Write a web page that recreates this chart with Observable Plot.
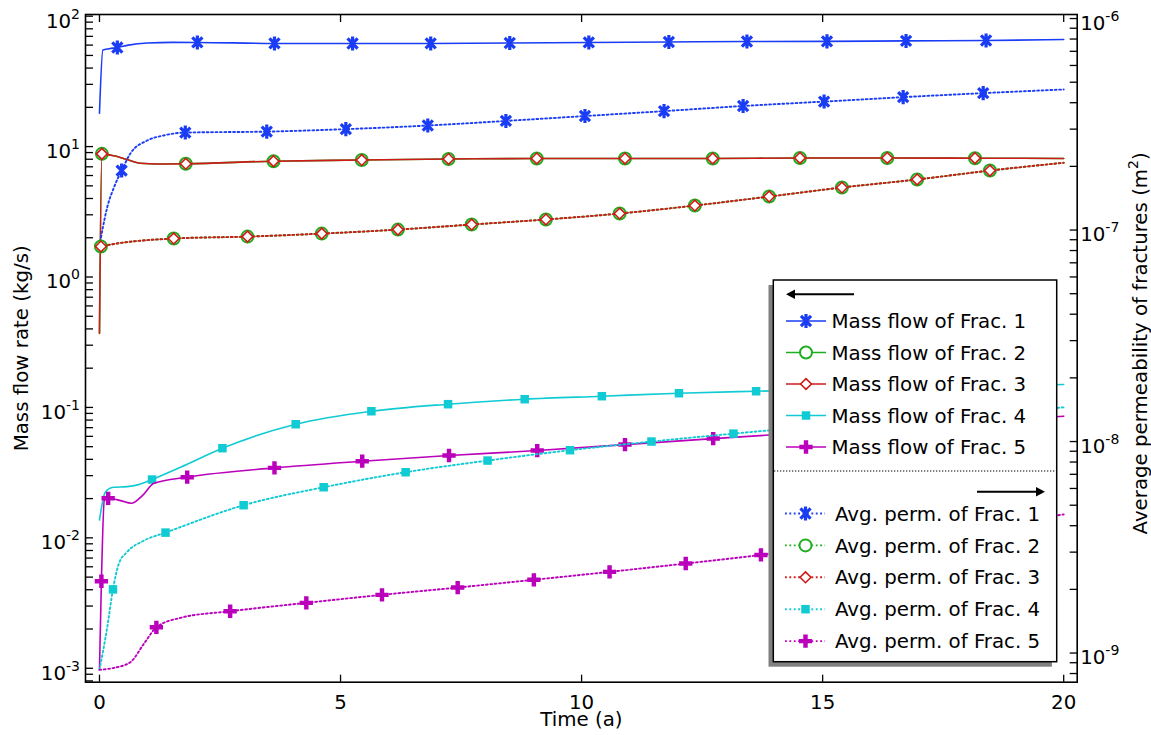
<!DOCTYPE html>
<html>
<head>
<meta charset="utf-8">
<script src="https://cdn.jsdelivr.net/npm/d3@7"></script>
<script src="https://cdn.jsdelivr.net/npm/@observablehq/plot@0.6"></script>
<style>
  body { margin: 0; background: #fff; }
  svg { display: block; }
</style>
</head>
<body>
<div id="chart"></div>
<script>
// ---------- axes ----------
const xTicks = [0, 5, 10, 15, 20];
const xDomain = [-0.29, 20.28];
const leftDomain = [7.82e-4, 103];          // mass flow rate (kg/s)
const leftMajor = [1e-3, 1e-2, 1e-1, 1e0, 1e1, 1e2];
const rightDomain = [7.28e-10, 1.045e-6];   // average permeability (m^2)
const rightMajor = [1e-9, 1e-8, 1e-7, 1e-6];

const xTitle = "Time (a)";
const leftTitle = "Mass flow rate (kg/s)";
const rightTitle = "Average permeability of fractures (m^2)";

const massLabels = ["Mass flow of Frac. 1", "Mass flow of Frac. 2", "Mass flow of Frac. 3", "Mass flow of Frac. 4", "Mass flow of Frac. 5"];
const permLabels = ["Avg. perm. of Frac. 1", "Avg. perm. of Frac. 2", "Avg. perm. of Frac. 3", "Avg. perm. of Frac. 4", "Avg. perm. of Frac. 5"];
const fracColors = ["#1a3cf5", "#1fae1f", "#d01a1a", "#10cbd3", "#bb00bb"];
const fracSymbols = ["star", "circle", "diamond", "square", "plus"];

// ---------- data: [time (a), value] ----------
// mass flow (left axis, kg/s)
const massFrac1 = [[0,18],[0.07,55],[0.2,56.3],[0.37,57.5],[0.6,60],[1.0,62.3],[1.5,63],[2.03,62.9],[3.63,61.8],[5.25,61.7],[6.87,61.8],[8.51,62.3],[10.15,62.9],[11.81,63.4],[13.43,63.9],[15.09,64.1],[16.73,64.6],[18.39,65.1],[20,66.3]];
const massFrac1Markers = [0.37,2.03,3.63,5.25,6.87,8.51,10.15,11.81,13.43,15.09,16.73,18.39];

const massFrac2 = [[0,0.37],[0.05,8.8],[0.3,8.5],[0.55,8.0],[0.85,7.45],[1.2,7.35],[1.79,7.38],[3.61,7.73],[5.44,7.89],[7.24,8.04],[9.07,8.11],[10.9,8.11],[12.72,8.11],[14.53,8.18],[16.34,8.18],[18.16,8.15],[20,8.11]];
const massFrac2Markers = [0.05,1.79,3.61,5.44,7.24,9.07,10.9,12.72,14.53,16.34,18.16];

const massFrac3 = [[0,0.37],[0.05,8.8],[0.3,8.5],[0.55,8.0],[0.85,7.45],[1.2,7.35],[1.79,7.38],[3.61,7.73],[5.44,7.89],[7.24,8.04],[9.07,8.11],[10.9,8.11],[12.72,8.11],[14.53,8.18],[16.34,8.18],[18.16,8.15],[20,8.11]];
const massFrac3Markers = [0.05,1.79,3.61,5.44,7.24,9.07,10.9,12.72,14.53,16.34,18.16];

const massFrac4 = [[0,0.0137],[0.12,0.0224],[0.29,0.0244],[0.57,0.0247],[0.81,0.0256],[1.09,0.028],[1.68,0.0348],[2.55,0.0487],[4.07,0.0743],[5.64,0.0935],[7.23,0.1059],[8.82,0.1156],[10.42,0.1219],[12.02,0.1285],[13.62,0.1331],[15.2,0.137],[16.8,0.141],[18.4,0.1455],[20,0.15]];
const massFrac4Markers = [1.09,2.55,4.07,5.64,7.23,8.82,10.42,12.02,13.62,15.2,16.8,18.4];

const massFrac5 = [[0,0.00099],[0.04,0.00465],[0.1,0.0193],[0.18,0.0201],[0.44,0.0193],[0.66,0.0184],[0.89,0.0211],[1.13,0.0262],[1.82,0.0292],[3.63,0.0344],[5.45,0.0387],[7.25,0.0428],[9.08,0.0467],[10.9,0.0519],[12.73,0.0577],[14.55,0.0637],[16.37,0.0703],[18.2,0.0776],[20,0.0857]];
const massFrac5Markers = [0.04,0.18,1.82,3.63,5.45,7.25,9.08,10.9,12.73,14.55,16.37,18.2];

// average permeability (right axis, m^2)
const permFrac1 = [[0,8.4e-8],[0.06,1.0e-7],[0.16,1.28e-7],[0.3,1.59e-7],[0.46,1.91e-7],[0.64,2.3e-7],[0.99,2.65e-7],[1.33,2.8e-7],[1.78,2.89e-7],[3.47,2.92e-7],[5.11,3.0e-7],[6.81,3.12e-7],[8.43,3.28e-7],[10.07,3.46e-7],[11.71,3.65e-7],[13.35,3.86e-7],[15.03,4.05e-7],[16.67,4.25e-7],[18.33,4.44e-7],[20,4.62e-7]];
const permFrac1Markers = [0.46,1.78,3.47,5.11,6.81,8.43,10.07,11.71,13.35,15.03,16.67,18.33];

const permFrac2 = [[0,8.3e-8],[0.03,8.36e-8],[1.54,9.12e-8],[3.07,9.31e-8],[4.61,9.62e-8],[6.19,1.005e-7],[7.72,1.062e-7],[9.26,1.122e-7],[10.79,1.197e-7],[12.35,1.306e-7],[13.89,1.44e-7],[15.4,1.589e-7],[16.96,1.734e-7],[18.47,1.911e-7],[20,2.08e-7]];
const permFrac2Markers = [0.03,1.54,3.07,4.61,6.19,7.72,9.26,10.79,12.35,13.89,15.4,16.96,18.47];

const permFrac3 = [[0,8.3e-8],[0.03,8.36e-8],[1.54,9.12e-8],[3.07,9.31e-8],[4.61,9.62e-8],[6.19,1.005e-7],[7.72,1.062e-7],[9.26,1.122e-7],[10.79,1.197e-7],[12.35,1.306e-7],[13.89,1.44e-7],[15.4,1.589e-7],[16.96,1.734e-7],[18.47,1.911e-7],[20,2.08e-7]];
const permFrac3Markers = [0.03,1.54,3.07,4.61,6.19,7.72,9.26,10.79,12.35,13.89,15.4,16.96,18.47];

const permFrac4 = [[0,8.33e-10],[0.16,1.32e-9],[0.28,2.0e-9],[0.4,2.64e-9],[0.57,3.0e-9],[0.92,3.4e-9],[1.37,3.71e-9],[2.99,5.0e-9],[4.65,6.08e-9],[6.35,7.16e-9],[8.05,8.13e-9],[9.76,9.1e-9],[11.45,1.0e-8],[13.15,1.09e-8],[14.85,1.18e-8],[16.55,1.27e-8],[18.25,1.36e-8],[20,1.45e-8]];
const permFrac4Markers = [0.28,1.37,2.99,4.65,6.35,8.05,9.76,11.45,13.15,14.85,16.55,18.25];

const permFrac5 = [[0,8.33e-10],[0.3,8.51e-10],[0.64,9.05e-10],[0.92,1.105e-9],[1.18,1.323e-9],[1.68,1.467e-9],[2.71,1.576e-9],[4.29,1.727e-9],[5.86,1.884e-9],[7.43,2.04e-9],[9.01,2.22e-9],[10.58,2.42e-9],[12.16,2.65e-9],[13.72,2.91e-9],[15.29,3.25e-9],[16.86,3.63e-9],[18.43,4.05e-9],[20,4.52e-9]];
const permFrac5Markers = [1.18,2.71,4.29,5.86,7.43,9.01,10.58,12.16,13.72,15.29,16.86,18.43];

// ---------- setup ----------
const FONT = "DejaVu Sans";
const FS = 19.8;
const W = 1151, H = 735;

const L0 = Math.log10(leftDomain[0]), L1 = Math.log10(leftDomain[1]);
const R0 = Math.log10(rightDomain[0]), R1 = Math.log10(rightDomain[1]);
const toLeft = v => 10 ** (L0 + (Math.log10(v) - R0) / (R1 - R0) * (L1 - L0));

function logTicks([lo, hi]) {
  const out = [];
  for (let e = Math.floor(Math.log10(lo)); e <= Math.ceil(Math.log10(hi)); e++)
    for (let k = 1; k < 10; k++) {
      const v = k * Math.pow(10, e);
      if (v >= lo * 0.9999 && v <= hi * 1.0001) out.push(v);
    }
  return out;
}

const starSymbol = {
  draw(ctx, size) {
    const r = Math.sqrt(size) * 0.6, d = r * 0.72;
    ctx.moveTo(0, -r); ctx.lineTo(0, r);
    ctx.moveTo(-d, -d); ctx.lineTo(d, d);
    ctx.moveTo(-d, d); ctx.lineTo(d, -d);
  }
};

const symStyle = {
  star:    c => ({symbol: starSymbol, r: 6.6, fill: "none", stroke: c, strokeWidth: 3.2}),
  circle:  c => ({symbol: "circle", r: 6, fill: "white", stroke: c, strokeWidth: 2}),
  diamond: c => ({symbol: "diamond2", r: 4.9, fill: "white", stroke: c, strokeWidth: 1.6}),
  square:  c => ({symbol: "square", r: 4.8, fill: c, stroke: "none"}),
  plus:    c => ({symbol: "cross", r: 5.6, fill: c, stroke: "none"})
};
const d3Sym = {star: starSymbol, circle: d3.symbolCircle, diamond: d3.symbolDiamond2, square: d3.symbolSquare, plus: d3.symbolCross};

const massData = [massFrac1, massFrac2, massFrac3, massFrac4, massFrac5];
const massMarks = [massFrac1Markers, massFrac2Markers, massFrac3Markers, massFrac4Markers, massFrac5Markers];
const permData = [permFrac1, permFrac2, permFrac3, permFrac4, permFrac5];
const permMarks = [permFrac1Markers, permFrac2Markers, permFrac3Markers, permFrac4Markers, permFrac5Markers];

const DOT = "1.8,2.6";
const marks = [];
function addSeries(data, markerT, color, sym, right, dotted) {
  const Y = right ? (d => toLeft(d[1])) : (d => d[1]);
  marks.push(Plot.line(data, {x: d => d[0], y: Y, stroke: color, strokeWidth: dotted ? 1.9 : 1.6,
    strokeDasharray: dotted ? DOT : null, curve: "monotone-x", clip: true}));
  const pts = data.filter(d => markerT.includes(d[0]));
  marks.push(Plot.dot(pts, {x: d => d[0], y: Y, ...symStyle[sym](color)}));
}
for (let i = 0; i < 5; i++) addSeries(massData[i], massMarks[i], fracColors[i], fracSymbols[i], false, false);
for (let i = 0; i < 5; i++) addSeries(permData[i], permMarks[i], fracColors[i], fracSymbols[i], true, true);

const expFmt = e => `10^${Math.round(e)}`;

const plot = Plot.plot({
  width: W, height: H,
  marginLeft: 85, marginRight: 74.3, marginTop: 14, marginBottom: 53.3,
  style: {fontFamily: FONT, fontSize: FS + "px", background: "white", color: "black"},
  x: {domain: xDomain},
  y: {type: "log", domain: leftDomain},
  marks: [
    ...marks,
    Plot.frame({stroke: "black", strokeWidth: 1.6}),
    // left axis
    Plot.axisY({anchor: "left", ticks: logTicks(leftDomain), tickSize: -8, fill: "none", label: null, strokeWidth: 1.3}),
    Plot.axisY({anchor: "left", ticks: leftMajor, tickSize: 0, tickPadding: 5.5, dy: 5, label: null,
      tickFormat: d => expFmt(Math.log10(d))}),
    // right axis
    Plot.axisY({anchor: "right", ticks: logTicks(rightDomain).map(toLeft), tickSize: -8, fill: "none", label: null, strokeWidth: 1.3}),
    Plot.text(rightMajor, {y: d => toLeft(d), text: d => expFmt(Math.log10(d)), frameAnchor: "right",
      textAnchor: "start", lineAnchor: "middle", dx: 3, dy: 5}),
    // x axis
    Plot.axisX({anchor: "bottom", ticks: xTicks, tickSize: -7, fill: "none", label: null, strokeWidth: 1.3}),
    Plot.axisX({anchor: "top", ticks: xTicks, tickSize: -7, fill: "none", label: null, strokeWidth: 1.3}),
    Plot.axisX({anchor: "bottom", ticks: xTicks, tickSize: 0, tickPadding: 13, label: null, tickFormat: d => String(d)}),
    // titles
    Plot.text([xTitle], {text: d => d, frameAnchor: "bottom", textAnchor: "middle", lineAnchor: "middle", dy: 37}),
    Plot.text([leftTitle], {text: d => d, frameAnchor: "left", textAnchor: "middle", lineAnchor: "middle", rotate: -90, dx: -64}),
    Plot.text([rightTitle], {text: d => d, frameAnchor: "right", textAnchor: "middle", lineAnchor: "middle", rotate: -90, dx: 63, dy: -5})
  ]
});

const svg = plot.tagName.toLowerCase() === "svg" ? plot : plot.querySelector("svg");
const NS = "http://www.w3.org/2000/svg";

// superscripts (10^n, m^2)
svg.querySelectorAll("text").forEach(t => {
  if (t.children.length) return;
  const s = t.textContent;
  if (!s.includes("^")) return;
  const parts = s.split(/\^(-?\d+)/);
  t.textContent = "";
  parts.forEach((p, i) => {
    if (i === 0) { if (p) t.appendChild(document.createTextNode(p)); return; }
    if (p === "") return;
    const ts = document.createElementNS(NS, "tspan");
    ts.textContent = p;
    if (i % 2 === 1) { ts.setAttribute("dy", "-9"); ts.setAttribute("font-size", "14px"); }
    else { ts.setAttribute("dy", "9"); }
    t.appendChild(ts);
  });
});

// ---------- legend ----------
const g = d3.select(svg).append("g").attr("font-family", FONT).attr("font-size", FS).attr("text-anchor", "start");
g.append("rect").attr("x", 768.5).attr("y", 285).attr("width", 283.4).attr("height", 381.7).attr("fill", "#808080");
g.append("rect").attr("x", 773.3).attr("y", 280).attr("width", 283.4).attr("height", 381.7)
  .attr("fill", "white").attr("stroke", "black").attr("stroke-width", 1.5);
// left-pointing arrow (mass flow -> left axis)
g.append("line").attr("x1", 793).attr("x2", 854).attr("y1", 294.3).attr("y2", 294.3).attr("stroke", "black").attr("stroke-width", 2);
g.append("path").attr("d", "M786,294.3L795,289.6L795,299Z").attr("fill", "black");
// separator
g.append("line").attr("x1", 774).attr("x2", 1056).attr("y1", 471).attr("y2", 471)
  .attr("stroke", "black").attr("stroke-width", 1.2).attr("stroke-dasharray", "1.3,1.7");
// right-pointing arrow (permeability -> right axis)
g.append("line").attr("x1", 977).attr("x2", 1037).attr("y1", 491.7).attr("y2", 491.7).attr("stroke", "black").attr("stroke-width", 2);
g.append("path").attr("d", "M1045,491.7L1036,487L1036,496.4Z").attr("fill", "black");

function legendRow(y, x0, x1, xm, xt, label, color, sym, dotted) {
  g.append("line").attr("x1", x0).attr("x2", x1).attr("y1", y).attr("y2", y)
    .attr("stroke", color).attr("stroke-width", dotted ? 1.9 : 1.6).attr("stroke-dasharray", dotted ? DOT : null);
  const st = symStyle[sym](color);
  g.append("path").attr("d", d3.symbol(d3Sym[sym], Math.PI * st.r * st.r)())
    .attr("transform", `translate(${xm},${y})`)
    .attr("fill", st.fill).attr("stroke", st.stroke).attr("stroke-width", st.strokeWidth || null);
  g.append("text").attr("x", xt).attr("y", y).attr("dy", "0.36em").attr("text-anchor", "start")
    .attr("fill", "black").text(label);
}
for (let i = 0; i < 5; i++) legendRow(321 + 31.5 * i, 786, 826, 806, 831.5, massLabels[i], fracColors[i], fracSymbols[i], false);
for (let i = 0; i < 5; i++) legendRow(513.5 + 31.9 * i, 785, 825, 805.5, 835, permLabels[i], fracColors[i], fracSymbols[i], true);

document.getElementById("chart").appendChild(plot);
</script>
</body>
</html>
